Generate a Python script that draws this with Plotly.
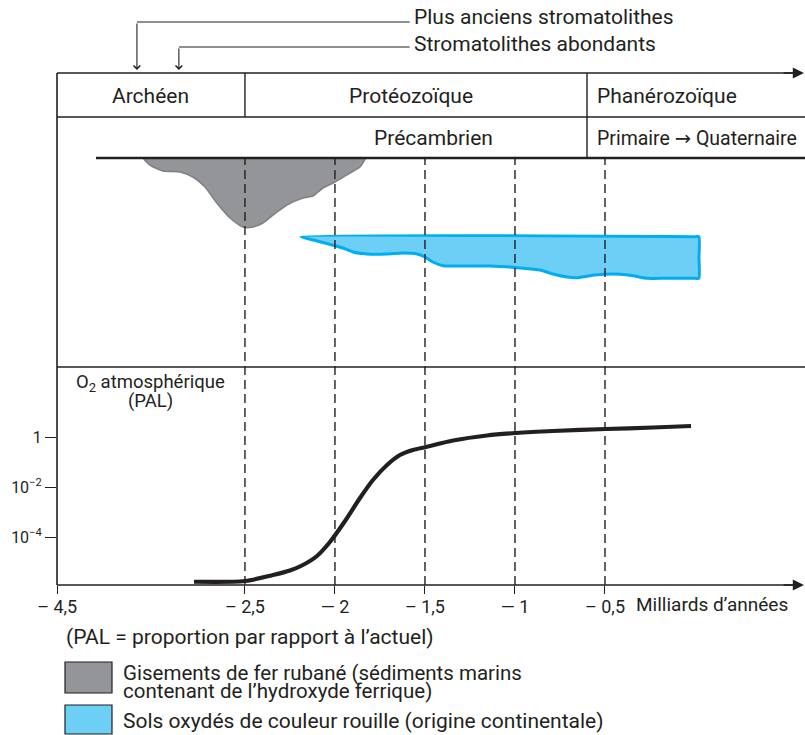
import plotly.graph_objects as go

# ---------------- data ----------------
# time axis (billions of years, axis compressed before -2.5; "-4,5" sits at the left edge)
era_names = ["Archéen", "Protéozoïque", "Phanérozoïque"]
era_bounds = [-3.544, -2.5, -0.6, 0.611]
eon_names = ["Précambrien", "Primaire → Quaternaire"]

tick_vals = [-3.543, -2.5, -2.0, -1.5, -1.0, -0.5]
tick_text = ["– 4,5", "– 2,5", "— 2", "– 1,5", "— 1", "– 0,5"]
dashed_x = [-2.5, -2.0, -1.5, -1.0, -0.5]

strom_x = [-3.1, -2.867]
strom_labels = ["Plus anciens stromatolithes", "Stromatolithes abondants"]

# banded iron formations (extent below the time line, arbitrary units)
bif_x = [-3.061, -3.061, -3.028, -2.956, -2.861, -2.789, -2.722, -2.656, -2.583, -2.511,
         -2.456, -2.40, -2.344, -2.267, -2.178, -2.122, -2.067, -2.0, -1.917, -1.861,
         -1.833, -1.833]
bif_depth = [0, 1, 7, 13, 14, 19, 29, 45, 60, 69,
             69, 65, 57, 47, 40, 38, 30, 24, 15, 9,
             1, 0]

# red beds (oxidized continental soils)
rb_x = [-2.189, -2.10, -2.0, -1.956, -1.90, -1.822, -1.711, -1.622, -1.544, -1.50,
        -1.456, -1.40, -1.289, -1.139, -1.028, -0.989, -0.861, -0.789, -0.711, -0.656,
        -0.583, -0.511, -0.417, -0.344, -0.267, -0.156, 0.0, 0.022, 0.022, 0.022, 0.0, -2.189]
rb_depth = [78.7, 83, 87.7, 90, 94, 96, 96, 95, 96, 99,
            104, 107.7, 108, 108, 109, 109.7, 112, 116, 119, 119.7,
            117.7, 116.3, 116.3, 117.7, 120.3, 120.3, 120.3, 120.3, 100, 78.7, 78.7, 78.7]

# atmospheric O2 (log10 PAL)
o2_x = [-2.783, -2.5, -2.344, -2.25, -2.178, -2.10, -2.028, -1.944, -1.861, -1.789,
        -1.711, -1.639, -1.567, -1.494, -1.417, -1.344, -1.156, -0.994, -0.789,
        -0.494, -0.233, -0.022]
o2_log = [-5.79, -5.76, -5.52, -5.34, -5.12, -4.76, -4.20, -3.36, -2.44, -1.72,
          -1.12, -0.72, -0.52, -0.40, -0.26, -0.14, 0.06, 0.16, 0.24,
          0.32, 0.38, 0.44]
y_tick_vals = [0, -2, -4]
y_tick_text = ["1", "10<sup>−2</sup>", "10<sup>−4</sup>"]

# ---------------- layout helpers ----------------
W, H = 805, 735
L, R, T, B = 57, 805, 73, 585   # plot frame in pixels
TXT = "#231f20"
FONT = "Roboto, DejaVu Sans, sans-serif"


def py(p):  # pixel row -> paper y
    return (B - p) / (B - T)


def pxp(p):  # pixel column -> paper x
    return (p - L) / (R - L)


def txt(size):
    return dict(size=size, color=TXT, family=FONT)


fig = go.Figure()

fig.add_trace(go.Scatter(
    x=bif_x, y=bif_depth, xaxis="x", yaxis="y2", mode="lines",
    line=dict(color="#808285", width=1.6, shape="spline", smoothing=0.6),
    fill="toself", fillcolor="#939598", hoverinfo="skip", showlegend=False))

fig.add_trace(go.Scatter(
    x=rb_x, y=rb_depth, xaxis="x", yaxis="y2", mode="lines",
    line=dict(color="#00aeef", width=3, shape="spline", smoothing=0.5),
    fill="toself", fillcolor="#6dcff6", hoverinfo="skip", showlegend=False))

fig.add_trace(go.Scatter(
    x=o2_x, y=o2_log, xaxis="x", yaxis="y", mode="lines",
    line=dict(color=TXT, width=4.2, shape="spline", smoothing=0.8),
    hoverinfo="skip", showlegend=False))

shapes = []
# frame lines
for yrow in [73, 585]:
    shapes.append(dict(type="line", xref="paper", yref="paper", x0=0, x1=pxp(796),
                       y0=py(yrow), y1=py(yrow), line=dict(color=TXT, width=1.6)))
shapes.append(dict(type="line", xref="paper", yref="paper", x0=0, x1=1, y0=py(117), y1=py(117),
                   line=dict(color=TXT, width=1.4)))
shapes.append(dict(type="line", xref="paper", yref="paper", x0=pxp(96), x1=1, y0=py(158), y1=py(158),
                   line=dict(color=TXT, width=2.4)))
shapes.append(dict(type="line", xref="paper", yref="paper", x0=0, x1=1, y0=py(367), y1=py(367),
                   line=dict(color=TXT, width=1.4)))
shapes.append(dict(type="line", xref="paper", yref="paper", x0=0, x1=0, y0=0, y1=1,
                   line=dict(color=TXT, width=1.6)))
# era dividers
shapes.append(dict(type="line", xref="x", yref="paper", x0=era_bounds[1], x1=era_bounds[1],
                   y0=py(117), y1=1, line=dict(color=TXT, width=1.4)))
shapes.append(dict(type="line", xref="x", yref="paper", x0=era_bounds[2], x1=era_bounds[2],
                   y0=py(158), y1=1, line=dict(color=TXT, width=1.4)))
# dashed guides
for xv in dashed_x:
    shapes.append(dict(type="line", xref="x", yref="paper", x0=xv, x1=xv, y0=0, y1=py(158),
                       line=dict(color=TXT, width=1.4, dash="9px,5px"), layer="above"))
# stromatolite leader lines
for xv, yrow in zip(strom_x, [22, 47]):
    shapes.append(dict(type="line", xref="x", yref="paper", x0=xv, x1=-1.585,
                       y0=py(yrow), y1=py(yrow), line=dict(color=TXT, width=1.2)))
# legend boxes
shapes.append(dict(type="rect", xref="paper", yref="paper", x0=pxp(65), x1=pxp(112),
                   y0=py(693), y1=py(662), fillcolor="#939598", line=dict(color=TXT, width=1.2)))
shapes.append(dict(type="rect", xref="paper", yref="paper", x0=pxp(65), x1=pxp(112),
                   y0=py(734), y1=py(705), fillcolor="#6dcff6", line=dict(color=TXT, width=1.2)))

ann = []
# axis arrowheads
for yrow in [73, 585]:
    ann.append(dict(x=pxp(804), y=py(yrow), xref="paper", yref="paper", ax=-22, ay=0, text="",
                    showarrow=True, arrowhead=2, arrowsize=1.4, arrowwidth=1.6,
                    arrowcolor=TXT, standoff=0))
# stromatolite arrows and labels
for xv, yrow, ylab, lab in zip(strom_x, [22, 47], [17, 44], strom_labels):
    ann.append(dict(x=xv, y=py(70), xref="x", yref="paper", ax=0, ay=-(70 - yrow),
                    text="", showarrow=True, arrowhead=4, arrowsize=1.2, arrowwidth=1.1,
                    arrowcolor=TXT, standoff=0))
    ann.append(dict(x=pxp(412), y=py(ylab), xref="paper", yref="paper", text=lab,
                    showarrow=False, xanchor="left", yanchor="middle", font=txt(21)))
# era labels
ann.append(dict(x=(era_bounds[0] + era_bounds[1]) / 2, y=py(96), xref="x", yref="paper",
                xanchor="center", yanchor="middle",
                text=era_names[0], showarrow=False, font=txt(21)))
ann.append(dict(x=(era_bounds[1] + era_bounds[2]) / 2 - 0.03, y=py(96), xref="x", yref="paper",
                xanchor="center", yanchor="middle",
                text=era_names[1], showarrow=False, font=txt(21)))
ann.append(dict(x=era_bounds[2] + 0.045, y=py(96), xref="x", yref="paper",
                xanchor="left", yanchor="middle",
                text=era_names[2], showarrow=False, font=txt(21)))
ann.append(dict(x=-1.45, y=py(138), xref="x", yref="paper", xanchor="center", yanchor="middle",
                text=eon_names[0], showarrow=False, font=txt(21)))
ann.append(dict(x=era_bounds[2] + 0.045, y=py(138), xref="x", yref="paper",
                xanchor="left", yanchor="middle",
                text=eon_names[1], showarrow=False, font=txt(19.5)))
# O2 axis title
ann.append(dict(x=pxp(150), y=py(383), xref="paper", yref="paper", xanchor="center",
                yanchor="middle", text="O<sub>2</sub> atmosphérique", showarrow=False,
                font=txt(18.5)))
ann.append(dict(x=pxp(150), y=py(401), xref="paper", yref="paper", xanchor="center",
                yanchor="middle", text="(PAL)", showarrow=False, font=txt(18.5)))
# x unit
ann.append(dict(x=pxp(634), y=py(604), xref="paper", yref="paper", xanchor="left",
                yanchor="middle", text="Milliards d’années", showarrow=False, font=txt(19)))
# notes / legend
ann.append(dict(x=pxp(64), y=py(637), xref="paper", yref="paper", xanchor="left",
                yanchor="middle", text="(PAL = proportion par rapport à l’actuel)",
                showarrow=False, font=txt(21)))
ann.append(dict(x=pxp(121), y=py(673), xref="paper", yref="paper", xanchor="left",
                yanchor="middle", text="Gisements de fer rubané (sédiments marins",
                showarrow=False, font=txt(20.5)))
ann.append(dict(x=pxp(121), y=py(691), xref="paper", yref="paper", xanchor="left",
                yanchor="middle", text="contenant de l’hydroxyde ferrique)",
                showarrow=False, font=txt(20.5)))
ann.append(dict(x=pxp(121), y=py(721), xref="paper", yref="paper", xanchor="left",
                yanchor="middle", text="Sols oxydés de couleur rouille (origine continentale)",
                showarrow=False, font=txt(21)))

fig.update_layout(
    width=W, height=H,
    margin=dict(l=L, r=W - R, t=T, b=H - B, pad=0),
    paper_bgcolor="white", plot_bgcolor="white",
    showlegend=False,
    font=dict(family=FONT, color=TXT),
    xaxis=dict(range=[era_bounds[0], era_bounds[-1]], domain=[0, 1], anchor="y",
               showgrid=False, zeroline=False, showline=False,
               ticks="outside", ticklen=8, tickwidth=1.2, tickcolor=TXT,
               tickvals=tick_vals, ticktext=tick_text, ticklabelstandoff=-3,
               tickfont=txt(18)),
    yaxis=dict(range=[-5.92, 2.8], domain=[0, py(367)], anchor="x",
               showgrid=False, zeroline=False, showline=False,
               ticks="outside", ticklen=11, tickwidth=1.2, tickcolor=TXT,
               tickvals=y_tick_vals, ticktext=y_tick_text,
               tickfont=txt(16)),
    yaxis2=dict(range=[209, 0], domain=[py(367), py(158)], anchor="x",
                showgrid=False, zeroline=False, showline=False, showticklabels=False,
                ticks=""),
    shapes=shapes,
    annotations=ann,
)

fig.write_html(
    "out.html",
    config={"displayModeBar": False},
    post_script="document.body.style.margin='0';document.body.style.overflow='hidden';",
)
